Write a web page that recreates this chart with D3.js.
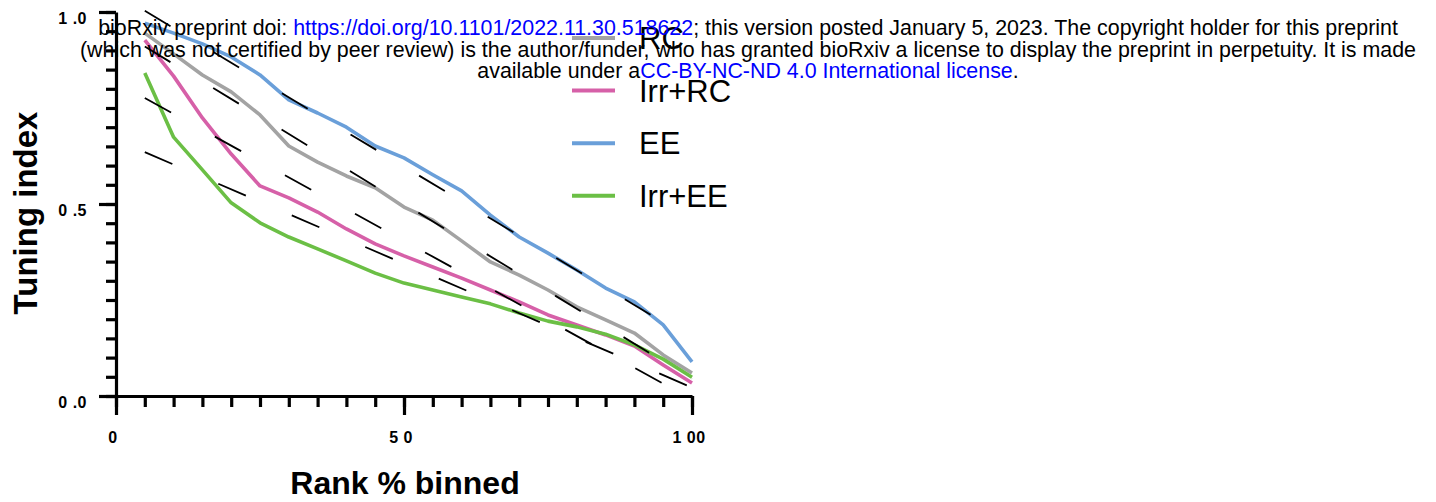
<!DOCTYPE html>
<html>
<head>
<meta charset="utf-8">
<script src="https://cdn.jsdelivr.net/npm/d3@7"></script>
<style>
  html, body { margin: 0; padding: 0; background: #fff; }
  svg { display: block; }
  text { font-family: Arial, "Liberation Sans", Helvetica, sans-serif; white-space: pre; }
</style>
</head>
<body>
<svg id="chart" width="1436" height="502"></svg>
<script>
// Rank bins (% of cells, binned in steps of 5)
const rankBins = [5, 10, 15, 20, 25, 30, 35, 40, 45, 50, 55, 60, 65, 70, 75, 80, 85, 90, 95, 100];

// Tuning index per bin for each condition
const rcValues    = [0.945, 0.891, 0.836, 0.792, 0.732, 0.651, 0.609, 0.573, 0.542, 0.492,
                     0.458, 0.404, 0.349, 0.315, 0.276, 0.232, 0.198, 0.164, 0.107, 0.060];
const irrRcValues = [0.927, 0.833, 0.724, 0.630, 0.547, 0.516, 0.479, 0.435, 0.396, 0.365,
                     0.336, 0.307, 0.276, 0.245, 0.211, 0.185, 0.159, 0.130, 0.081, 0.034];
const eeValues    = [0.971, 0.945, 0.917, 0.883, 0.836, 0.771, 0.737, 0.700, 0.651, 0.620,
                     0.576, 0.534, 0.471, 0.414, 0.372, 0.328, 0.281, 0.245, 0.185, 0.089];
const irrEeValues = [0.841, 0.674, 0.589, 0.503, 0.451, 0.414, 0.383, 0.352, 0.320, 0.294,
                     0.276, 0.258, 0.240, 0.216, 0.195, 0.180, 0.161, 0.133, 0.096, 0.049];

// Linear fit for each condition: value at the first and at the last bin
const fitNames  = ["EE", "RC", "Irr+RC", "Irr+EE"];
const fitStart  = [1.003, 0.910, 0.776, 0.635];
const fitEnd    = [0.147, 0.045, -0.009, 0.022];

// Legend / series order and colours
const seriesNames  = ["RC", "Irr+RC", "EE", "Irr+EE"];
const seriesColors = ["#a3a3a3", "#d660a8", "#6a9fd9", "#6bbf45"];

// Axis tick labels
const xTickLabels = ["0", "5 0", "1 00"];
const yTickLabels = ["0 .0", "0 .5", "1 .0"];

const seriesValues = [rcValues, irrRcValues, eeValues, irrEeValues];

const svg = d3.select("#chart");

const x = d3.scaleLinear().domain([0, 100]).range([116, 692]);
const y = d3.scaleLinear().domain([0, 1]).range([396, 12]);

// ---- axes ----
const axisG = svg.append("g").attr("class", "axes");

function styleAxis(g) {
  g.selectAll("path.domain").attr("stroke", "#000").attr("stroke-width", 3.2);
  g.selectAll(".tick line").attr("stroke", "#000").attr("stroke-width", 3.2);
  g.selectAll(".tick text").remove();
}

// x axis: minor ticks every 5, major ticks at 0 / 50 / 100
axisG.append("g")
  .attr("transform", `translate(0,${y(0)})`)
  .call(d3.axisBottom(x).tickValues(d3.range(0, 101, 5)).tickSize(11).tickSizeOuter(0))
  .call(styleAxis);
axisG.append("g")
  .attr("transform", `translate(0,${y(0)})`)
  .call(d3.axisBottom(x).tickValues([0, 50, 100]).tickSize(19).tickSizeOuter(0))
  .call(styleAxis)
  .call(g => g.select("path.domain").remove());

// y axis: minor ticks every 0.05, major ticks at 0 / 0.5 / 1
axisG.append("g")
  .attr("transform", `translate(${x(0)},0)`)
  .call(d3.axisLeft(y).tickValues(d3.range(0, 1.0001, 0.05)).tickSize(10).tickSizeOuter(0))
  .call(styleAxis);
axisG.append("g")
  .attr("transform", `translate(${x(0)},0)`)
  .call(d3.axisLeft(y).tickValues([0, 0.5, 1]).tickSize(17).tickSizeOuter(0))
  .call(styleAxis)
  .call(g => g.select("path.domain").remove());

// tick labels
svg.append("g").selectAll("text")
  .data([0, 50, 100])
  .join("text")
  .attr("x", d => x(d) - 3)
  .attr("y", 443)
  .attr("text-anchor", "middle")
  .attr("font-size", 16)
  .attr("font-weight", "bold")
  .attr("letter-spacing", 0.5)
  .text((d, i) => xTickLabels[i]);

svg.append("g").selectAll("text")
  .data([0, 0.5, 1])
  .join("text")
  .attr("x", 87)
  .attr("y", d => y(d) + 12)
  .attr("text-anchor", "end")
  .attr("font-size", 16)
  .attr("font-weight", "bold")
  .attr("letter-spacing", 0.5)
  .text((d, i) => yTickLabels[i]);

// axis titles
svg.append("text")
  .attr("transform", "translate(37,213) rotate(-90)")
  .attr("text-anchor", "middle")
  .attr("font-size", 33)
  .attr("font-weight", "bold")
  .text("Tuning index");

svg.append("text")
  .attr("x", 405)
  .attr("y", 494)
  .attr("text-anchor", "middle")
  .attr("font-size", 32)
  .attr("font-weight", "bold")
  .text("Rank % binned");

// ---- data lines ----
const line = d3.line()
  .x((d, i) => x(rankBins[i]))
  .y(d => y(d));

svg.append("g").selectAll("path")
  .data(seriesValues)
  .join("path")
  .attr("d", d => line(d))
  .attr("fill", "none")
  .attr("stroke", (d, i) => seriesColors[i])
  .attr("stroke-width", 3.6)
  .attr("stroke-linejoin", "round");

// ---- linear fits (dashed) ----
svg.append("g").selectAll("line")
  .data(fitNames)
  .join("line")
  .attr("x1", x(rankBins[0]))
  .attr("y1", (d, i) => y(fitStart[i]))
  .attr("x2", x(rankBins[rankBins.length - 1]))
  .attr("y2", (d, i) => y(fitEnd[i]))
  .attr("stroke", "#000")
  .attr("stroke-width", 1.8)
  .attr("stroke-dasharray", "30,50");

// ---- legend ----
const legend = svg.append("g").attr("class", "legend");
seriesNames.forEach((name, i) => {
  const ly = 38 + i * 52.6;
  legend.append("line")
    .attr("x1", 572).attr("x2", 615)
    .attr("y1", ly).attr("y2", ly)
    .attr("stroke", seriesColors[i])
    .attr("stroke-width", 4);
  legend.append("text")
    .attr("x", 639)
    .attr("y", ly + 11)
    .attr("font-size", 31)
    .text(name);
});

// ---- preprint notice ----
const notice = svg.append("g").attr("class", "notice")
  .attr("font-size", 21.4)
  .attr("text-anchor", "middle");

const l1 = notice.append("text").attr("x", 748).attr("y", 35);
l1.append("tspan").text("bioRxiv preprint doi: ");
l1.append("tspan").attr("fill", "#0000ff").text("https://doi.org/10.1101/2022.11.30.518622");
l1.append("tspan").text("; this version posted January 5, 2023. The copyright holder for this preprint");

notice.append("text").attr("x", 748).attr("y", 57)
  .text("(which was not certified by peer review) is the author/funder, who has granted bioRxiv a license to display the preprint in perpetuity. It is made");

const l3 = notice.append("text").attr("x", 748).attr("y", 78);
l3.append("tspan").text("available under a");
l3.append("tspan").attr("fill", "#0000ff").text("CC-BY-NC-ND 4.0 International license");
l3.append("tspan").text(".");
</script>
</body>
</html>
